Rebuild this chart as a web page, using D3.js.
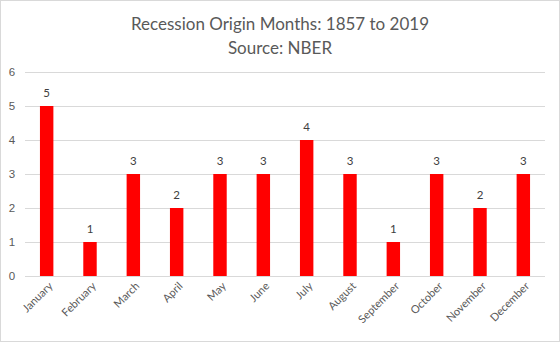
<!DOCTYPE html>
<html>
<head>
<meta charset="utf-8">
<script src="https://cdn.jsdelivr.net/npm/d3@7"></script>
<style>
  body { margin: 0; background: #fff; }
  svg { display: block; font-family: Lato, "Open Sans", sans-serif; }
</style>
</head>
<body>
<svg width="560" height="342"></svg>
<script>
var months = ["January", "February", "March", "April", "May", "June",
              "July", "August", "September", "October", "November", "December"];
var counts = [5, 1, 3, 2, 3, 3, 4, 3, 1, 3, 2, 3];
var yTicks = [0, 1, 2, 3, 4, 5, 6];
var titleLines = ["Recession Origin Months: 1857 to 2019", "Source: NBER"];

var svg = d3.select("svg"),
    width = +svg.attr("width"),
    height = +svg.attr("height");

var textCol = "#595959";

// chart border
svg.append("rect")
    .attr("x", 0.5).attr("y", 0.5)
    .attr("width", width - 1).attr("height", height - 1)
    .attr("fill", "#fff")
    .attr("stroke", "#d9d9d9");

var x = d3.scaleBand()
    .domain(months)
    .range([25, 545])
    .paddingInner(0.69)
    .paddingOuter(0.345);

var y = d3.scaleLinear()
    .domain([0, 6])
    .range([276, 72]);

// title
svg.append("g")
    .selectAll("text")
    .data(titleLines)
    .enter().append("text")
      .attr("x", width / 2)
      .attr("y", function(d, i) { return 30 + i * 24; })
      .attr("text-anchor", "middle")
      .attr("fill", textCol)
      .style("font-size", "17px")
      .text(function(d) { return d; });

// gridlines + y labels
var yAxis = d3.axisLeft(y)
    .tickValues(yTicks)
    .tickFormat(d3.format("d"))
    .tickSize(-(545 - 25))
    .tickPadding(10);

var gy = svg.append("g")
    .attr("transform", "translate(25,0)")
    .call(yAxis);
gy.select(".domain").remove();
gy.selectAll(".tick line")
    .attr("stroke", "#d9d9d9");
gy.selectAll(".tick text")
    .attr("fill", textCol)
    .attr("text-anchor", "middle")
    .attr("x", -13)
    .style("font-size", "11.5px");

// bars
svg.append("g")
    .selectAll("rect")
    .data(counts)
    .enter().append("rect")
      .attr("x", function(d, i) { return x(months[i]); })
      .attr("y", function(d) { return y(d); })
      .attr("width", x.bandwidth())
      .attr("height", function(d) { return y(0) - y(d); })
      .attr("fill", "#ff0000");

// value labels
svg.append("g")
    .selectAll("text")
    .data(counts)
    .enter().append("text")
      .attr("x", function(d, i) { return x(months[i]) + x.bandwidth() / 2; })
      .attr("y", function(d) { return y(d) - 9; })
      .attr("text-anchor", "middle")
      .attr("fill", "#404040")
      .style("font-size", "11.5px")
      .text(function(d) { return d; });

// x labels, rotated
svg.append("g")
    .selectAll("text")
    .data(months)
    .enter().append("text")
      .attr("transform", function(d) {
        return "translate(" + (x(d) + x.bandwidth() / 2 + 4) + ",284) rotate(-45)";
      })
      .attr("text-anchor", "end")
      .attr("dy", "0.35em")
      .attr("fill", textCol)
      .style("font-size", "11px")
      .text(function(d) { return d; });
</script>
</body>
</html>
